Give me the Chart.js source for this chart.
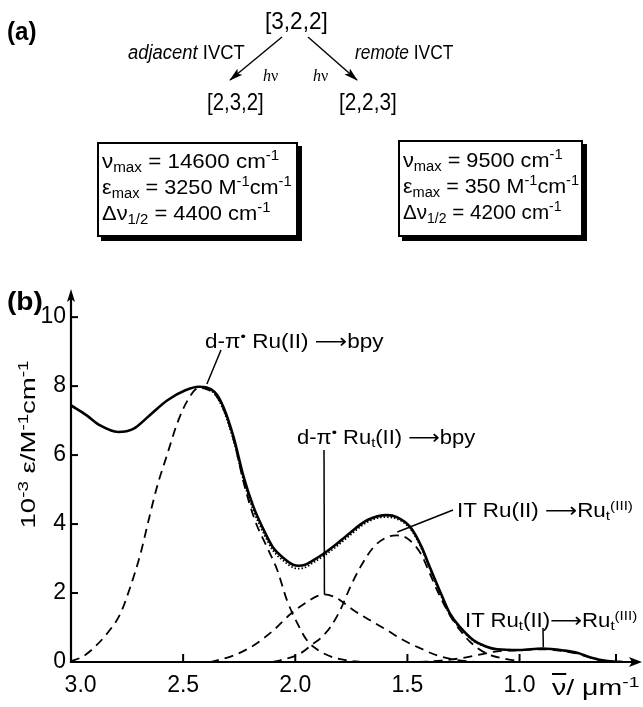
<!DOCTYPE html>
<html>
<head>
<meta charset="utf-8">
<script src="https://cdn.jsdelivr.net/npm/chart.js@4.4.1/dist/chart.umd.min.js"></script>
<style>
html,body{margin:0;padding:0;background:#fff;}
#wrap{position:relative;width:643px;height:707px;overflow:hidden;font-family:"Liberation Sans",Arial,Helvetica,sans-serif;color:#000;background:#fff;}
#c{position:absolute;left:0;top:0;}
.t{position:absolute;white-space:nowrap;line-height:1;transform-origin:0 50%;}
.t sub,.t sup{font-size:68%;line-height:0;}
.t sub{vertical-align:-0.25em;}
.t sup{vertical-align:0.55em;}
.box{position:absolute;border:2px solid #000;box-shadow:4px 4px 0 #000;background:#fff;box-sizing:border-box;}
.lbl{font-family:"Liberation Sans",Arial,sans-serif;font-size:20px;}
.arr{font-family:"DejaVu Sans",sans-serif;}
svg{position:absolute;left:0;top:0;}
</style>
</head>
<body>
<div id="wrap">
  <canvas id="c" width="643" height="707"></canvas>

  <svg width="643" height="130" viewBox="0 0 643 130">
    <defs>
      <marker id="ah" markerWidth="14" markerHeight="8" refX="13" refY="4" orient="auto" markerUnits="userSpaceOnUse">
        <path d="M0,0 L14,4 L0,8 L3,4 Z" fill="#000"/>
      </marker>
    </defs>
    <line x1="282" y1="37" x2="230" y2="80" stroke="#000" stroke-width="1.4" marker-end="url(#ah)"/>
    <line x1="308" y1="37" x2="357" y2="80" stroke="#000" stroke-width="1.4" marker-end="url(#ah)"/>
  </svg>

  <!-- part (a) -->
  <div class="t" style="font-weight:bold;font-size:25px" data-x="7" data-cy="31" data-w="30">(a)</div>
  <div class="t" style="font-size:24px" data-x="265" data-cy="21" data-w="63">[3,2,2]</div>
  <div class="t" style="font-size:20px" data-x="128" data-cy="52" data-w="117"><i>adjacent</i> IVCT</div>
  <div class="t" style="font-size:20px" data-x="355" data-cy="52" data-w="98"><i>remote</i> IVCT</div>
  <div class="t" style="font-size:16px;font-family:'Liberation Serif',serif" data-x="263" data-cy="76" data-w="15"><i>h</i>ν</div>
  <div class="t" style="font-size:16px;font-family:'Liberation Serif',serif" data-x="313" data-cy="76" data-w="15"><i>h</i>ν</div>
  <div class="t" style="font-size:24px" data-x="207" data-cy="102" data-w="57">[2,3,2]</div>
  <div class="t" style="font-size:24px" data-x="339" data-cy="102" data-w="58">[2,2,3]</div>

  <div class="box" style="left:97px;top:142px;width:201px;height:95px"></div>
  <div class="box" style="left:398px;top:140px;width:185px;height:97px"></div>

  <div class="t" style="font-size:21px" data-x="102" data-cy="160" data-w="177">ν<sub>max</sub> = 14600 cm<sup>-1</sup></div>
  <div class="t" style="font-size:21px" data-x="102" data-cy="186" data-w="190">ε<sub>max</sub> = 3250 M<sup>-1</sup>cm<sup>-1</sup></div>
  <div class="t" style="font-size:21px" data-x="102" data-cy="212" data-w="169">Δν<sub>1/2</sub> = 4400 cm<sup>-1</sup></div>

  <div class="t" style="font-size:21px" data-x="403" data-cy="159" data-w="160">ν<sub>max</sub> = 9500 cm<sup>-1</sup></div>
  <div class="t" style="font-size:21px" data-x="403" data-cy="185" data-w="176">ε<sub>max</sub> = 350 M<sup>-1</sup>cm<sup>-1</sup></div>
  <div class="t" style="font-size:21px" data-x="403" data-cy="211" data-w="159">Δν<sub>1/2</sub> = 4200 cm<sup>-1</sup></div>

  <!-- part (b) -->
  <div class="t" style="font-weight:bold;font-size:25px" data-x="7" data-cy="301" data-w="36">(b)</div>
  <div class="t lbl" data-x="205" data-cy="341" data-w="178">d-π<sup>•</sup> Ru(II) <span class="arr">⟶</span>bpy</div>
  <div class="t lbl" data-x="297" data-cy="437" data-w="178">d-π<sup>•</sup> Ru<sub>t</sub>(II) <span class="arr">⟶</span>bpy</div>
  <div class="t lbl" data-x="457" data-cy="510" data-w="176">IT Ru(II) <span class="arr">⟶</span>Ru<sub>t</sub><sup>(III)</sup></div>
  <div class="t lbl" data-x="465" data-cy="620" data-w="172">IT Ru<sub>t</sub>(II)<span class="arr">⟶</span>Ru<sub>t</sub><sup>(III)</sup></div>
  <div class="t" style="font-size:22px" data-x="552" data-cy="688" data-w="88"><span style="text-decoration:overline">ν</span>/ μm<sup>-1</sup></div>
  <div class="t" id="ytitle" style="font-size:21px" data-rot="1" data-x="28" data-cy="444" data-w="168">10<sup>-3</sup> ε/M<sup>-1</sup>cm<sup>-1</sup></div>
</div>

<script>
// ---------- data ----------
const xTickValues = [3.0, 2.5, 2.0, 1.5, 1.0, 0.57];
const xTickLabels = ['   3.0', '2.5', '2.0', '1.5', '1.0', ''];
const yTickValues = [0, 2, 4, 6, 8, 10];
const yTickLabels = ['0', '2', '4', '6', '8', '10'];

// measured spectrum (solid)
const measuredX = [3.00, 2.93, 2.87, 2.79, 2.72, 2.65, 2.57, 2.49, 2.43, 2.36, 2.32, 2.275, 2.23, 2.186, 2.14, 2.10, 2.05, 2.01, 1.985, 1.96, 1.92, 1.874, 1.82, 1.77, 1.68, 1.59, 1.547, 1.487, 1.44, 1.398, 1.35, 1.31, 1.265, 1.205, 1.15, 1.10, 1.00, 0.90, 0.80, 0.74, 0.70, 0.63, 0.58, 0.54];
const measuredY = [7.44, 7.15, 6.86, 6.67, 6.77, 7.15, 7.59, 7.88, 7.98, 7.83, 7.39, 6.52, 5.36, 4.49, 3.82, 3.33, 3.00, 2.82, 2.79, 2.81, 2.95, 3.14, 3.40, 3.67, 4.11, 4.26, 4.20, 3.91, 3.38, 2.72, 1.98, 1.40, 1.01, 0.63, 0.45, 0.37, 0.35, 0.39, 0.33, 0.26, 0.17, 0.05, 0.01, 0.0];

// sum of fitted bands (dotted)
const fitSumX = [2.40, 2.36, 2.32, 2.275, 2.23, 2.186, 2.14, 2.10, 2.05, 2.01, 1.985, 1.96, 1.92, 1.874, 1.82, 1.77, 1.68, 1.606, 1.547, 1.487, 1.44, 1.398, 1.35, 1.31, 1.265, 1.205, 1.15];
const fitSumY = [7.92, 7.78, 7.30, 6.42, 5.25, 4.38, 3.72, 3.24, 2.92, 2.74, 2.71, 2.73, 2.88, 3.07, 3.33, 3.60, 4.05, 4.20, 4.15, 3.86, 3.33, 2.67, 1.92, 1.36, 0.98, 0.61, 0.43];

// band: d-pi* Ru(II) -> bpy
const bandRuBpyX = [3.00, 2.95, 2.91, 2.84, 2.78, 2.736, 2.69, 2.654, 2.617, 2.57, 2.527, 2.48, 2.43, 2.39, 2.36, 2.32, 2.275, 2.23, 2.18, 2.126, 2.08, 2.037, 1.99, 1.948, 1.90, 1.85, 1.80, 1.75, 1.70];
const bandRuBpyY = [0.02, 0.15, 0.34, 0.82, 1.40, 2.17, 3.14, 4.11, 5.07, 6.04, 6.91, 7.59, 7.95, 7.90, 7.78, 7.33, 6.45, 5.20, 4.11, 3.33, 2.66, 1.79, 1.11, 0.63, 0.35, 0.18, 0.08, 0.03, 0.0];

// band: d-pi* Ru_t(II) -> bpy
const bandRutBpyX = [2.38, 2.275, 2.186, 2.097, 2.02, 1.948, 1.90, 1.87, 1.83, 1.80, 1.74, 1.666, 1.59, 1.517, 1.44, 1.368, 1.294, 1.20];
const bandRutBpyY = [0.0, 0.19, 0.48, 0.92, 1.40, 1.74, 1.92, 1.96, 1.90, 1.79, 1.50, 1.21, 0.92, 0.63, 0.39, 0.19, 0.07, 0.0];

// band: IT Ru(II) -> Ru_t(III)
const bandITadjX = [2.10, 2.067, 1.98, 1.92, 1.889, 1.844, 1.80, 1.755, 1.71, 1.651, 1.59, 1.547, 1.50, 1.44, 1.40, 1.353, 1.31, 1.265, 1.22, 1.145, 1.07, 1.00];
const bandITadjY = [0.0, 0.05, 0.24, 0.53, 0.68, 1.01, 1.50, 2.17, 2.75, 3.33, 3.62, 3.67, 3.58, 3.14, 2.56, 1.88, 1.35, 0.92, 0.58, 0.24, 0.10, 0.02];

// band: IT Ru_t(II) -> Ru_t(III)
const bandITremX = [1.45, 1.35, 1.25, 1.15, 1.10, 1.00, 0.90, 0.80, 0.74, 0.70, 0.63, 0.58];
const bandITremY = [0.0, 0.04, 0.12, 0.25, 0.31, 0.34, 0.37, 0.31, 0.24, 0.16, 0.04, 0.0];

// leader lines: label anchor (page px) -> point on curve (data units)
const leaderFromPx = [[221, 350], [324, 450], [453, 510], [543, 628]];
const leaderToData = [[2.394, 8.06], [1.87, 1.96], [1.545, 3.77], [0.894, 0.43]];

// ---------- build ----------
function pts(xs, ys) { return xs.map((x, i) => ({x: x, y: ys[i]})); }

const axesPlugin = {
  id: 'axesDraw',
  afterDatasetsDraw(chart) {
    const ctx = chart.ctx, xs = chart.scales.x, ys = chart.scales.y, a = chart.chartArea;
    ctx.save();
    ctx.strokeStyle = '#000'; ctx.fillStyle = '#000';
    ctx.lineWidth = 2.2; ctx.lineCap = 'butt';
    // x axis
    ctx.beginPath(); ctx.moveTo(a.left, a.bottom); ctx.lineTo(a.right - 6, a.bottom); ctx.stroke();
    ctx.beginPath(); ctx.moveTo(a.right, a.bottom); ctx.lineTo(a.right - 13, a.bottom - 5); ctx.lineTo(a.right - 10, a.bottom); ctx.lineTo(a.right - 13, a.bottom + 5); ctx.closePath(); ctx.fill();
    // y axis
    ctx.beginPath(); ctx.moveTo(a.left, a.bottom + 1); ctx.lineTo(a.left, a.top + 6); ctx.stroke();
    ctx.beginPath(); ctx.moveTo(a.left, a.top - 4); ctx.lineTo(a.left - 4, a.top + 9); ctx.lineTo(a.left, a.top + 6); ctx.lineTo(a.left + 4, a.top + 9); ctx.closePath(); ctx.fill();
    // inward ticks
    ctx.lineWidth = 2;
    xTickValues.forEach(v => { if (v === 3.0) return; const p = xs.getPixelForValue(v); ctx.beginPath(); ctx.moveTo(p, a.bottom); ctx.lineTo(p, a.bottom - 8); ctx.stroke(); });
    yTickValues.forEach(v => { if (v === 0) return; const p = ys.getPixelForValue(v); ctx.beginPath(); ctx.moveTo(a.left, p); ctx.lineTo(a.left + 7, p); ctx.stroke(); });
    // leader lines
    ctx.lineWidth = 1.5;
    leaderFromPx.forEach((f, i) => {
      const t = leaderToData[i];
      ctx.beginPath(); ctx.moveTo(f[0], f[1]); ctx.lineTo(xs.getPixelForValue(t[0]), ys.getPixelForValue(t[1])); ctx.stroke();
    });
    ctx.restore();
  }
};

const common = {pointRadius: 0, pointHoverRadius: 0, fill: false, borderColor: '#000', cubicInterpolationMode: 'monotone', borderCapStyle: 'butt'};

new Chart(document.getElementById('c'), {
  type: 'line',
  data: {
    datasets: [
      Object.assign({label: 'measured', data: pts(measuredX, measuredY), borderWidth: 2.6, order: 0}, common),
      Object.assign({label: 'sum of bands', data: pts(fitSumX, fitSumY), borderWidth: 1.8, borderDash: [1.5, 2], order: 1}, common),
      Object.assign({label: 'd-π* Ru(II)→bpy', data: pts(bandRuBpyX, bandRuBpyY), borderWidth: 1.8, borderDash: [9, 6], order: 2}, common),
      Object.assign({label: 'd-π* Rut(II)→bpy', data: pts(bandRutBpyX, bandRutBpyY), borderWidth: 1.8, borderDash: [9, 6], order: 3}, common),
      Object.assign({label: 'IT Ru(II)→Rut(III)', data: pts(bandITadjX, bandITadjY), borderWidth: 1.8, borderDash: [9, 6], order: 4}, common),
      Object.assign({label: 'IT Rut(II)→Rut(III)', data: pts(bandITremX, bandITremY), borderWidth: 1.8, borderDash: [9, 6], order: 5}, common)
    ]
  },
  options: {
    responsive: false,
    animation: false,
    devicePixelRatio: 1,
    layout: {padding: {top: 293, right: 1, bottom: 0, left: 0}},
    plugins: {legend: {display: false}, tooltip: {enabled: false}},
    events: [],
    scales: {
      x: {
        type: 'linear', reverse: true, min: 0.454, max: 3.0,
        grid: {display: false, drawTicks: false},
        border: {display: false},
        afterBuildTicks: s => { s.ticks = xTickValues.map(v => ({value: v})); },
        afterFit: s => { s.height = 45; },
        ticks: {
          autoSkip: false, maxRotation: 0, padding: 10, color: '#000',
          font: {family: 'Liberation Sans', size: 23},
          callback: (v) => { const i = xTickValues.indexOf(v); return i >= 0 ? xTickLabels[i] : ''; }
        }
      },
      y: {
        type: 'linear', min: 0, max: 10.7,
        grid: {display: false, drawTicks: false},
        border: {display: false},
        afterBuildTicks: s => { s.ticks = yTickValues.map(v => ({value: v})); },
        afterFit: s => { s.width = 71; },
        ticks: {
          autoSkip: false, padding: 5, color: '#000',
          font: {family: 'Liberation Sans', size: 23},
          callback: (v) => { const i = yTickValues.indexOf(v); return i >= 0 ? yTickLabels[i] : ''; }
        }
      }
    }
  },
  plugins: [axesPlugin]
});

// place overlay texts
document.querySelectorAll('.t').forEach(el => {
  const x = +el.dataset.x, cy = +el.dataset.cy, w = +el.dataset.w;
  const ow = el.offsetWidth, oh = el.offsetHeight;
  const s = w / ow;
  if (el.dataset.rot) {
    el.style.left = (x - ow / 2) + 'px';
    el.style.top = (cy - oh / 2) + 'px';
    el.style.transformOrigin = '50% 50%';
    el.style.transform = 'rotate(-90deg) scaleX(' + s + ')';
  } else {
    el.style.left = x + 'px';
    el.style.top = (cy - oh / 2) + 'px';
    el.style.transform = 'scaleX(' + s + ')';
  }
});
</script>
</body>
</html>
